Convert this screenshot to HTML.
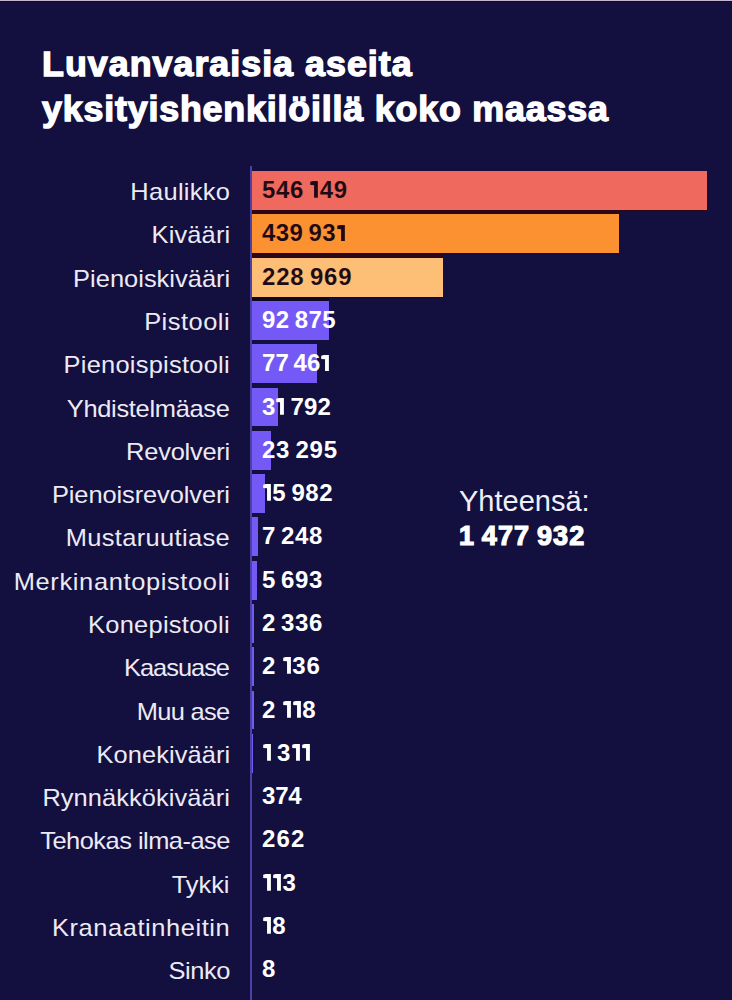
<!DOCTYPE html>
<html><head><meta charset="utf-8"><style>
html,body{margin:0;padding:0;}
body{width:732px;height:1000px;background:#130f3f;position:relative;overflow:hidden;font-family:"Liberation Sans",sans-serif;}
.topline{position:absolute;left:0;top:0;width:732px;height:1px;background:#c3b8d4;}
.topline2{position:absolute;left:0;top:1px;width:732px;height:1px;background:#120a2a;}.topline3{position:absolute;left:0;top:2px;width:732px;height:1px;background:#181036;}
.title{-webkit-text-stroke:1.4px #fff;position:absolute;left:42px;color:#fff;font-weight:bold;font-size:35.8px;line-height:45px;white-space:nowrap;}
.axis{position:absolute;left:250px;top:166px;width:2px;height:834px;background:#4c42a4;}
.bar{position:absolute;left:252px;height:38.8px;}
.lab{transform:scaleX(1.06);transform-origin:100% 50%;position:absolute;right:502px;height:38.8px;line-height:38.8px;color:#eceaf4;font-size:24px;white-space:nowrap;}
.num{position:absolute;left:262px;height:38.8px;line-height:38.8px;font-weight:bold;font-size:24px;white-space:nowrap;word-spacing:-2.0px;}
.one{vertical-align:baseline;}
.tot1{position:absolute;left:459px;top:482.8px;color:#f0eef6;font-size:29px;line-height:36px;white-space:nowrap;}
.tot2{-webkit-text-stroke:1.2px #fff;position:absolute;left:459px;top:518px;color:#fff;font-weight:bold;font-size:27px;line-height:36px;white-space:nowrap;word-spacing:-2.0px;}
</style></head><body>
<div class="topline"></div><div class="topline2"></div><div class="topline3"></div>
<div class="title" style="top:41.6px;letter-spacing:1.0210526315789583px">Luvanvaraisia aseita</div>
<div class="title" style="top:87px;letter-spacing:0.819999999999993px">yksityishenkilöillä koko maassa</div>
<div class="bar" style="top:171.20px;width:455.00px;background:#ef695e"></div><div class="bar" style="top:214.48px;width:366.51px;background:#fc9132"></div><div class="bar" style="top:257.76px;width:190.76px;background:#fdbe76"></div><div class="bar" style="top:301.04px;width:77.37px;background:#7459f6"></div><div class="bar" style="top:344.32px;width:64.53px;background:#7459f6"></div><div class="bar" style="top:387.60px;width:26.49px;background:#7459f6"></div><div class="bar" style="top:430.88px;width:19.41px;background:#7459f6"></div><div class="bar" style="top:474.16px;width:13.31px;background:#7459f6"></div><div class="bar" style="top:517.44px;width:6.04px;background:#7459f6"></div><div class="bar" style="top:560.72px;width:4.74px;background:#7459f6"></div><div class="bar" style="top:604.00px;width:1.95px;background:#7459f6"></div><div class="bar" style="top:647.28px;width:1.78px;background:#7459f6"></div><div class="bar" style="top:690.56px;width:1.76px;background:#7459f6"></div><div class="bar" style="top:733.84px;width:1.09px;background:#7459f6"></div><div style="position:absolute;left:252px;top:210.00px;width:455.00px;height:1.2px;background:#2a0818"></div><div style="position:absolute;left:252px;top:210.00px;width:366.51px;height:4.48px;background:#2a0818"></div><div style="position:absolute;left:252px;top:253.28px;width:366.51px;height:1.2px;background:#28081a"></div><div style="position:absolute;left:252px;top:253.28px;width:190.76px;height:4.48px;background:#28081a"></div><div style="position:absolute;left:252px;top:296.56px;width:190.76px;height:1.2px;background:#0f0920"></div><div style="position:absolute;left:252px;top:296.56px;width:77.37px;height:4.48px;background:#0f0920"></div><div class="lab" style="top:173.20px;letter-spacing:0.274px;margin-right:-0.274px">Haulikko</div><div class="num" style="top:171.20px;color:#1c0a14;letter-spacing:0.667px;-webkit-text-stroke:0.12px #ef695e">546 <svg class="one" width="10.3" height="16.8" viewBox="0 0 10.3 16.8"><path d="M1.20,0.7 L3.80,0 H8.90 V16.8 H5.05 V4.3 L1.20,3.9 Z" fill="currentColor" stroke="#ef695e" stroke-width="0.12"/></svg>49</div><div class="lab" style="top:216.48px;letter-spacing:0.134px;margin-right:-0.134px">Kivääri</div><div class="num" style="top:214.48px;color:#1c0a14;letter-spacing:0.433px;-webkit-text-stroke:0.12px #fc9132">439 93<svg class="one" width="10.3" height="16.8" viewBox="0 0 10.3 16.8"><path d="M1.20,0.7 L3.80,0 H8.90 V16.8 H5.05 V4.3 L1.20,3.9 Z" fill="currentColor" stroke="#fc9132" stroke-width="0.12"/></svg></div><div class="lab" style="top:259.76px;letter-spacing:0.009px;margin-right:-0.009px">Pienoiskivääri</div><div class="num" style="top:257.76px;color:#1c0a14;letter-spacing:0.800px;-webkit-text-stroke:0.12px #fdbe76">228 969</div><div class="lab" style="top:303.04px;letter-spacing:0.473px;margin-right:-0.473px">Pistooli</div><div class="num" style="top:301.04px;color:#ffffff;letter-spacing:0.440px">92 875</div><div class="lab" style="top:346.32px;letter-spacing:0.227px;margin-right:-0.227px">Pienoispistooli</div><div class="num" style="top:344.32px;color:#ffffff;letter-spacing:0.080px">77 46<svg class="one" width="10.3" height="16.8" viewBox="0 0 10.3 16.8"><path d="M1.20,0.7 L3.80,0 H8.90 V16.8 H5.05 V4.3 L1.20,3.9 Z" fill="currentColor"/></svg></div><div class="lab" style="top:389.60px;letter-spacing:-0.298px;margin-right:0.298px">Yhdistelmäase</div><div class="num" style="top:387.60px;color:#ffffff;letter-spacing:0.120px">3<svg class="one" width="10.3" height="16.8" viewBox="0 0 10.3 16.8"><path d="M1.20,0.7 L3.80,0 H8.90 V16.8 H5.05 V4.3 L1.20,3.9 Z" fill="currentColor"/></svg> 792</div><div class="lab" style="top:432.88px;letter-spacing:-0.224px;margin-right:0.224px">Revolveri</div><div class="num" style="top:430.88px;color:#ffffff;letter-spacing:0.720px">23 295</div><div class="lab" style="top:476.16px;letter-spacing:-0.097px;margin-right:0.097px">Pienoisrevolveri</div><div class="num" style="top:474.16px;color:#ffffff;letter-spacing:0.560px"><svg class="one" width="10.3" height="16.8" viewBox="0 0 10.3 16.8"><path d="M1.20,0.7 L3.80,0 H8.90 V16.8 H5.05 V4.3 L1.20,3.9 Z" fill="currentColor"/></svg>5 982</div><div class="lab" style="top:519.44px;letter-spacing:0.331px;margin-right:-0.331px">Mustaruutiase</div><div class="num" style="top:517.44px;color:#ffffff;letter-spacing:0.550px">7 248</div><div class="lab" style="top:562.72px;letter-spacing:0.599px;margin-right:-0.599px">Merkinantopistooli</div><div class="num" style="top:560.72px;color:#ffffff;letter-spacing:0.550px">5 693</div><div class="lab" style="top:606.00px;letter-spacing:0.254px;margin-right:-0.254px">Konepistooli</div><div class="num" style="top:604.00px;color:#ffffff;letter-spacing:0.550px">2 336</div><div class="lab" style="top:649.28px;letter-spacing:-0.970px;margin-right:0.970px">Kaasuase</div><div class="num" style="top:647.28px;color:#ffffff;letter-spacing:0.950px">2 <svg class="one" width="10.3" height="16.8" viewBox="0 0 10.3 16.8"><path d="M1.20,0.7 L3.80,0 H8.90 V16.8 H5.05 V4.3 L1.20,3.9 Z" fill="currentColor"/></svg>36</div><div class="lab" style="top:692.56px;letter-spacing:-0.675px;margin-right:0.675px">Muu ase</div><div class="num" style="top:690.56px;color:#ffffff;letter-spacing:0.850px">2 <svg class="one" width="10.3" height="16.8" viewBox="0 0 10.3 16.8"><path d="M1.20,0.7 L3.80,0 H8.90 V16.8 H5.05 V4.3 L1.20,3.9 Z" fill="currentColor"/></svg><svg class="one" width="10.3" height="16.8" viewBox="0 0 10.3 16.8"><path d="M1.20,0.7 L3.80,0 H8.90 V16.8 H5.05 V4.3 L1.20,3.9 Z" fill="currentColor"/></svg>8</div><div class="lab" style="top:735.84px;letter-spacing:0.074px;margin-right:-0.074px">Konekivääri</div><div class="num" style="top:733.84px;color:#ffffff;letter-spacing:0.150px"><svg class="one" width="10.3" height="16.8" viewBox="0 0 10.3 16.8"><path d="M1.20,0.7 L3.80,0 H8.90 V16.8 H5.05 V4.3 L1.20,3.9 Z" fill="currentColor"/></svg> 3<svg class="one" width="10.3" height="16.8" viewBox="0 0 10.3 16.8"><path d="M1.20,0.7 L3.80,0 H8.90 V16.8 H5.05 V4.3 L1.20,3.9 Z" fill="currentColor"/></svg><svg class="one" width="10.3" height="16.8" viewBox="0 0 10.3 16.8"><path d="M1.20,0.7 L3.80,0 H8.90 V16.8 H5.05 V4.3 L1.20,3.9 Z" fill="currentColor"/></svg></div><div class="lab" style="top:779.12px;letter-spacing:0.054px;margin-right:-0.054px">Rynnäkkökivääri</div><div class="num" style="top:777.12px;color:#ffffff;letter-spacing:-0.200px">374</div><div class="lab" style="top:822.40px;letter-spacing:-0.495px;margin-right:0.495px">Tehokas ilma-ase</div><div class="num" style="top:820.40px;color:#ffffff;letter-spacing:1.200px">262</div><div class="lab" style="top:865.68px;letter-spacing:-0.037px;margin-right:0.037px">Tykki</div><div class="num" style="top:863.68px;color:#ffffff;letter-spacing:1.800px"><svg class="one" width="10.3" height="16.8" viewBox="0 0 10.3 16.8"><path d="M1.20,0.7 L3.80,0 H8.90 V16.8 H5.05 V4.3 L1.20,3.9 Z" fill="currentColor"/></svg><svg class="one" width="10.3" height="16.8" viewBox="0 0 10.3 16.8"><path d="M1.20,0.7 L3.80,0 H8.90 V16.8 H5.05 V4.3 L1.20,3.9 Z" fill="currentColor"/></svg>3</div><div class="lab" style="top:908.96px;letter-spacing:0.542px;margin-right:-0.542px">Kranaatinheitin</div><div class="num" style="top:906.96px;color:#ffffff;letter-spacing:3.600px"><svg class="one" width="10.3" height="16.8" viewBox="0 0 10.3 16.8"><path d="M1.20,0.7 L3.80,0 H8.90 V16.8 H5.05 V4.3 L1.20,3.9 Z" fill="currentColor"/></svg>8</div><div class="lab" style="top:952.24px;letter-spacing:-0.405px;margin-right:0.405px">Sinko</div><div class="num" style="top:950.24px;color:#ffffff;letter-spacing:5.600px">8</div>
<div class="axis"></div>
<div class="tot1" style="letter-spacing:0.0px">Yhteensä:</div>
<div class="tot2" style="letter-spacing:1.1375000000000384px">1 477 932</div>
</body></html>
